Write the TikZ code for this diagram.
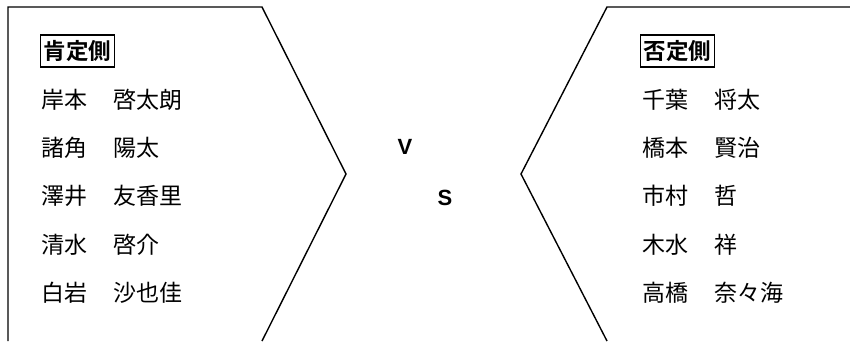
\documentclass[tikz,border=0pt]{standalone}
\usepackage{fontspec}
\setsansfont{Liberation Sans}
\newfontfamily\jpfont{Noto Sans CJK JP}[BoldFont={Noto Sans CJK JP Bold}]
\usetikzlibrary{positioning}
\tikzset{
  member/.style={anchor=west, inner sep=0pt,
    font=\jpfont\fontsize{23}{23}\selectfont},
  sidebox/.style={draw, line width=1.4pt, anchor=west, inner xsep=3pt,
    inner ysep=0pt, minimum height=32pt,
    font=\jpfont\bfseries\fontsize{22.5}{22.5}\selectfont},
  vsletter/.style={inner sep=0pt, font=\sffamily\bfseries\fontsize{22}{22}\selectfont},
  frame/.style={line width=1.4pt, line join=miter}
}
\begin{document}
\begin{tikzpicture}[x=1pt,y=-1pt]
  \useasboundingbox (0,0) rectangle (850,341);
  \draw[frame] (8,341) -- (8,7) -- (262,7) -- (346,174) -- (262,341);
  \draw[frame] (850,7) -- (607,7) -- (521,174) -- (607,341);
  \node[sidebox] (pro) at (40,51) {肯定側};
  \node[sidebox] (con) at (640,51) {否定側};
  \foreach \i/\y/\sur/\given in {1/100/岸本/啓太朗, 2/148/諸角/陽太, 3/196/澤井/友香里,
      4/245/清水/啓介, 5/293/白岩/沙也佳} {
    \node[member] (ps\i) at (41,\y) {\sur};
    \node[member] (pg\i) at (113,\y) {\given};
  }
  \foreach \i/\y/\sur/\given in {1/100/千葉/将太, 2/148/橋本/賢治, 3/196/市村/哲,
      4/245/木水/祥, 5/293/高橋/奈々海} {
    \node[member] (cs\i) at (642,\y) {\sur};
    \node[member] (cg\i) at (714,\y) {\given};
  }
  \node[vsletter] (v) at (405,147) {V};
  \node[vsletter] (s) at (445,198) {S};
\end{tikzpicture}
\end{document}
